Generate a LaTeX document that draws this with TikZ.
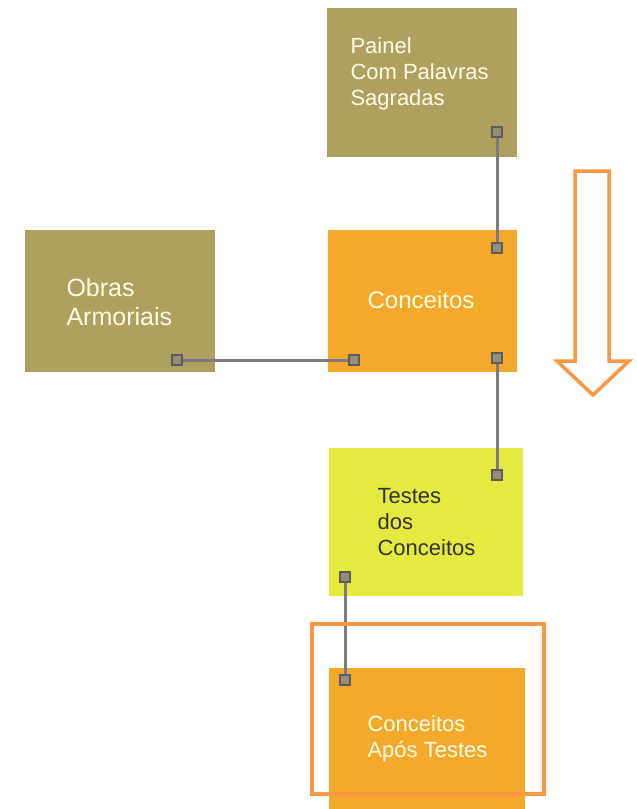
\documentclass[tikz,border=0pt]{standalone}
\usepackage{fontspec}
\setmainfont{Liberation Sans}
\usepackage{tikz}
\usetikzlibrary{arrows,positioning}
\usepackage{xcolor}
\definecolor{olivebox}{RGB}{176,160,96}
\definecolor{orangebox}{RGB}{244,168,44}
\definecolor{yellowbox}{RGB}{230,234,64}
\definecolor{frameorange}{RGB}{246,152,68}
\definecolor{linkgrey}{RGB}{122,122,128}
\definecolor{pinfill}{RGB}{150,140,120}

\begin{document}
\begin{tikzpicture}[x=1pt,y=-1pt,
    box/.style={rectangle,inner sep=0pt,anchor=north west},
    txt/.style={anchor=west,align=left,font=\fontsize{22}{26}\selectfont,text=white!90!yellow},
    pin/.style={rectangle,draw=linkgrey!75!black,fill=pinfill,line width=1.6pt,minimum size=10pt,inner sep=0pt},
    link/.style={draw=linkgrey,line width=3pt}]
  \useasboundingbox (0,0) rectangle (637,809);

  % boxes
  \node[box,fill=olivebox,minimum width=190pt,minimum height=149pt] (painel) at (327,8) {};
  \node[box,fill=olivebox,minimum width=190pt,minimum height=142pt] (obras) at (25,230) {};
  \node[box,fill=orangebox,minimum width=189pt,minimum height=142pt] (conc) at (328,230) {};
  \node[box,fill=yellowbox,minimum width=194pt,minimum height=148pt] (testes) at (329,448) {};
  \node[box,fill=orangebox,minimum width=196pt,minimum height=141pt] (apos) at (329,668) {};

  % texts
  \node[txt] (painelT) at (347,74) {Painel\\Com Palavras\\Sagradas};
  \node[txt,font=\fontsize{25}{29}\selectfont] (obrasT) at (63,302) {Obras\\Armoriais};
  \node[txt,anchor=center,font=\fontsize{24}{28}\selectfont] (concT) at (421,300) {Conceitos};
  \node[txt,text=black!80] (testesT) at (374,522) {Testes\\dos\\Conceitos};
  \node[txt] (aposT) at (364,739) {Conceitos\\Após Testes};

  % connector pins
  \node[pin] (p1) at (497,132) {};
  \node[pin] (p2) at (497,248) {};
  \node[pin] (p3) at (177,360) {};
  \node[pin] (p4) at (354,360) {};
  \node[pin] (p5) at (497,358) {};
  \node[pin] (p6) at (497,475) {};
  \node[pin] (p7) at (345,577) {};
  \node[pin] (p8) at (345,680) {};

  \path[link] (p1) -- (p2)
        (p3) -- (p4)
        (p5) -- (p6)
        (p7) -- (p8);

  % frame and arrow
  \node[box,draw=frameorange,line width=3.5pt,minimum width=232pt,minimum height=170pt] (frame) at (310,622) {};
  \draw[frameorange,line width=3.5pt,line join=miter]
    (575,171) -- (609,171) -- (609,361) -- (629,361) -- (593,395)
    -- (557,361) -- (575,361) -- cycle;
\end{tikzpicture}
\end{document}
